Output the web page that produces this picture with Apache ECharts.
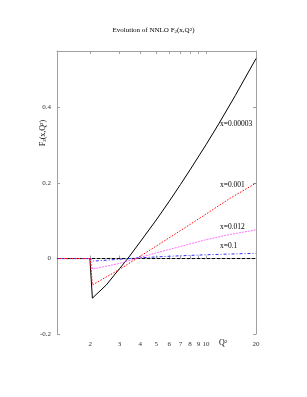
<!DOCTYPE html>
<html><head><meta charset="utf-8">
<script src="https://cdn.jsdelivr.net/npm/echarts@6/dist/echarts.min.js"></script>
<style>html,body{margin:0;padding:0;background:#fff}#c{width:307px;height:397px}</style>
</head><body><div id="c"></div>
<script>
var xTicks = [2, 3, 4, 5, 6, 7, 8, 9, 10, 20];
var yTicks = [-0.2, 0, 0.2, 0.4];
var xMin = 1.26, xMax = 20, yMin = -0.2, yMax = 0.55;

var blackQ = [1.26, 1.99, 2.0, 2.06, 2.085, 2.5, 3, 3.37, 4, 5, 6, 7, 8, 10, 12, 15, 20];
var blackV = [0, 0, 0.004, -0.105, -0.11, -0.07, -0.027, 0, 0.044, 0.102, 0.152, 0.196, 0.235, 0.302, 0.359, 0.432, 0.53];
var redQ = [1.26, 2.0, 2.06, 2.085, 3, 4, 5, 7, 10, 14, 20];
var redV = [0, 0, -0.07, -0.073, -0.029, 0.006, 0.033, 0.074, 0.118, 0.16, 0.2];
var pinkQ = [1.26, 2.0, 2.06, 2.085, 3, 4, 5, 7, 10, 14, 20];
var pinkV = [0, 0, -0.028, -0.029, -0.013, 0.003, 0.015, 0.032, 0.05, 0.064, 0.076];
var blueQ = [1.26, 2.0, 2.06, 2.085, 3, 4, 6, 10, 20];
var blueV = [0, 0, -0.007, -0.007, -0.002, 0.002, 0.006, 0.01, 0.014];
var zeroQ = [1.26, 20];
var zeroV = [0, 0];

function pairs(q, v) { return q.map(function (x, i) { return [x, v[i]]; }); }
var F = 'Liberation Serif, Times New Roman, serif';
var gray = '#a0a0a0';
var lx = function (v) { return Math.log10(v); };

var chart = echarts.init(document.getElementById('c'), null, {renderer: 'canvas'});
var tickVals = xTicks.map(lx);
chart.setOption({
  animation: false,
  grid: {left: 57, right: 51, top: 51, bottom: 63},
  xAxis: [
    {type: 'log', logBase: 10, min: xMin, max: xMax, show: false},
    {type: 'value', min: lx(xMin), max: lx(xMax), position: 'bottom',
     axisLine: {lineStyle: {color: gray, width: 1}},
     axisTick: {inside: true, length: 3, customValues: tickVals, lineStyle: {color: gray}},
     splitLine: {show: false},
     axisLabel: {customValues: tickVals, margin: 7, fontFamily: F, fontSize: 7, color: '#333',
       formatter: function (v) { return String(Math.round(Math.pow(10, v))); }}},
    {type: 'value', min: lx(xMin), max: lx(xMax), position: 'top',
     axisLine: {lineStyle: {color: gray, width: 1}},
     axisTick: {inside: true, length: 3, customValues: tickVals, lineStyle: {color: gray}},
     splitLine: {show: false}, axisLabel: {show: false}}
  ],
  yAxis: [
    {type: 'value', min: yMin, max: yMax, position: 'left',
     axisLine: {show: true, lineStyle: {color: gray, width: 1}},
     axisTick: {show: true, inside: true, length: 3, customValues: yTicks, lineStyle: {color: gray}},
     splitLine: {show: false},
     axisLabel: {customValues: yTicks, margin: 6, fontFamily: F, fontSize: 7, color: '#333',
       formatter: function (v) { return v === 0 ? '0' : String(v); }}},
    {type: 'value', min: yMin, max: yMax, position: 'right',
     axisLine: {show: true, lineStyle: {color: gray, width: 1}},
     axisTick: {show: true, inside: true, length: 3, customValues: yTicks, lineStyle: {color: gray}},
     splitLine: {show: false}, axisLabel: {show: false}}
  ],
  series: [
    {type: 'line', xAxisIndex: 0, yAxisIndex: 0, data: pairs(zeroQ, zeroV), symbol: 'none',
     lineStyle: {color: '#000', width: 1, type: [3, 2]}},
    {type: 'line', xAxisIndex: 0, yAxisIndex: 0, data: pairs(blackQ, blackV), symbol: 'none',
     lineStyle: {color: '#000', width: 1}},
    {type: 'line', xAxisIndex: 0, yAxisIndex: 0, data: pairs(pinkQ, pinkV), symbol: 'none',
     lineStyle: {color: '#ff70ff', width: 1, type: [2, 1]}},
    {type: 'line', xAxisIndex: 0, yAxisIndex: 0, data: pairs(blueQ, blueV), symbol: 'none',
     lineStyle: {color: '#3030ff', width: 1, type: [3, 2, 1, 2]}},
    {type: 'line', xAxisIndex: 0, yAxisIndex: 0, data: pairs(redQ, redV), symbol: 'none',
     lineStyle: {color: '#ff0000', width: 1, type: [1.5, 1.5]}}
  ],
  graphic: [
    {type: 'text', left: 'center', top: 27, style: {
      text: 'Evolution of NNLO F{sub|2}(x,Q{sup|2})', fontFamily: F, fontSize: 7, fill: '#000',
      rich: {sub: {fontSize: 5, verticalAlign: 'bottom', fontFamily: F}, sup: {fontSize: 5, verticalAlign: 'top', fontFamily: F}}}},
    {type: 'text', x: 43, y: 133, rotation: Math.PI / 2, style: {
      text: 'F{sub|2}(x,Q{sup|2})', fontFamily: F, fontSize: 8, fill: '#000', align: 'center', verticalAlign: 'middle',
      rich: {sub: {fontSize: 5, verticalAlign: 'bottom', fontFamily: F}, sup: {fontSize: 5, verticalAlign: 'top', fontFamily: F}}}},
    {type: 'text', x: 219, y: 343, style: {
      text: 'Q{sup|2}', fontFamily: F, fontSize: 8, fill: '#000', verticalAlign: 'middle',
      rich: {sup: {fontSize: 5, verticalAlign: 'top', fontFamily: F}}}},
    {type: 'text', x: 220, y: 124, style: {text: 'x=0.00003', fontFamily: F, fontSize: 7.5, fill: '#000', verticalAlign: 'middle'}},
    {type: 'text', x: 220, y: 185, style: {text: 'x=0.001', fontFamily: F, fontSize: 7.5, fill: '#000', verticalAlign: 'middle'}},
    {type: 'text', x: 220, y: 227, style: {text: 'x=0.012', fontFamily: F, fontSize: 7.5, fill: '#000', verticalAlign: 'middle'}},
    {type: 'text', x: 220, y: 246, style: {text: 'x=0.1', fontFamily: F, fontSize: 7.5, fill: '#000', verticalAlign: 'middle'}}
  ]
});
</script></body></html>
